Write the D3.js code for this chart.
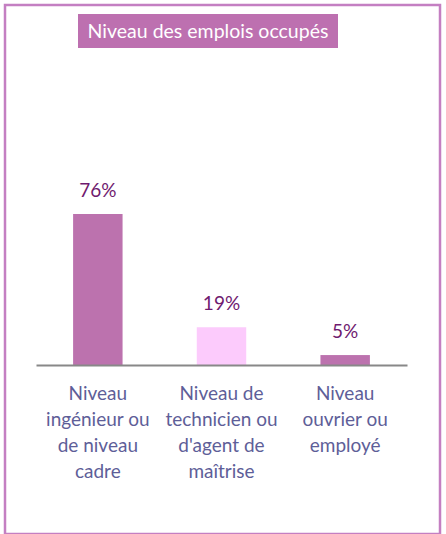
<!DOCTYPE html>
<html><head><meta charset="utf-8">
<script src="https://cdn.jsdelivr.net/npm/d3@7"></script>
<style>body{margin:0;background:#fff}svg{display:block}</style>
</head><body>
<script>
const title = "Niveau des emplois occupés";
const categories = [
  ["Niveau", "ingénieur ou", "de niveau", "cadre"],
  ["Niveau de", "technicien ou", "d'agent de", "maîtrise"],
  ["Niveau", "ouvrier ou", "employé"]
];
const values = [76, 19, 5];
const valueLabels = ["76%", "19%", "5%"];
const barColors = ["#bc72ae", "#fccbfc", "#bc72ae"];

const W = 446, H = 534;
const svg = d3.select("body").append("svg").attr("width", W).attr("height", H);
const font = "Lato, 'Open Sans', sans-serif";

// outer frame
svg.append("rect").attr("x", 5).attr("y", 5).attr("width", 435).attr("height", 529)
  .attr("fill", "#fff").attr("stroke", "#c47fc2").attr("stroke-width", 2.5);

// title box
svg.append("rect").attr("x", 78).attr("y", 14).attr("width", 260).attr("height", 34).attr("fill", "#bd70b0");
svg.append("text").attr("x", 208).attr("y", 38).attr("text-anchor", "middle")
  .attr("font-family", font).attr("font-size", 19.5).attr("fill", "#fff").text(title);

const baseline = 365;
const x = d3.scaleBand().domain(d3.range(values.length)).range([36, 407]).paddingInner(0.6).paddingOuter(0.3);
const y = d3.scaleLinear().domain([0, 76]).range([baseline, 214]);

svg.selectAll("rect.bar").data(values).join("rect").attr("class", "bar")
  .attr("x", (d, i) => x(i)).attr("width", x.bandwidth())
  .attr("y", d => y(d)).attr("height", d => baseline - y(d))
  .attr("fill", (d, i) => barColors[i]);

svg.selectAll("text.val").data(values).join("text").attr("class", "val")
  .attr("x", (d, i) => x(i) + x.bandwidth() / 2).attr("y", d => y(d) - 17)
  .attr("text-anchor", "middle").attr("font-family", font).attr("font-size", 19)
  .attr("fill", "#6f1a6f").text((d, i) => valueLabels[i]);

// axis line
const axis = svg.append("g").attr("transform", `translate(0,${baseline})`)
  .call(d3.axisBottom(x).tickSize(0).tickFormat(""));
axis.select(".domain").attr("stroke", "#888").attr("stroke-width", 2);

// category labels
categories.forEach((lines, i) => {
  const t = svg.append("text").attr("text-anchor", "middle").attr("font-family", font)
    .attr("font-size", 19).attr("fill", "#5e5e98");
  lines.forEach((l, j) => {
    t.append("tspan").attr("x", x(i) + x.bandwidth() / 2).attr("y", 400 + j * 26).text(l);
  });
});
</script>
</body></html>
